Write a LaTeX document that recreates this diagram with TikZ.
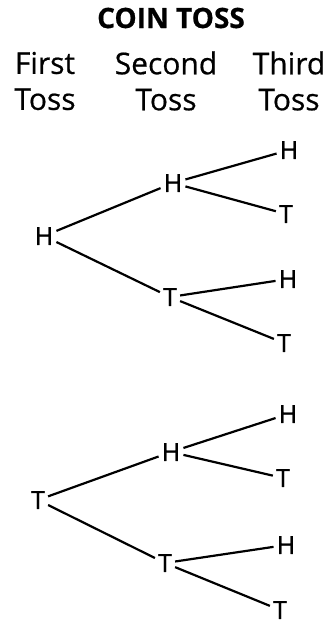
\documentclass[tikz,border=0pt]{standalone}
\usepackage{fontspec}
\setmainfont{Open Sans}[FakeBold=0.6]
\usetikzlibrary{positioning}

\begin{document}
\begin{tikzpicture}[x=1pt, y=-1pt,
		toss/.style={inner sep=3pt, font=\fontsize{25}{30}\selectfont},
		head/.style={align=center, font=\fontsize{30}{36}\selectfont}]
		\useasboundingbox (0,0) rectangle (333,625);
		\node[font=\bfseries\fontsize{28}{32}\selectfont] (title) at (171,18) {COIN TOSS};
		\node[head] (first) at (45,81) {First\\Toss};
		\node[head] (second) at (166,81) {Second\\Toss};
		\node[head] (third) at (289,81) {Third\\Toss};
		% heads first
		\node[toss] (h) at (44,236) {H};
		\node[toss] (hh) at (173,183) {H};
		\node[toss] (ht) at (170,297) {T};
		\node[toss] (hhh) at (289,150) {H};
		\node[toss] (hht) at (286,214) {T};
		\node[toss] (hth) at (288,279) {H};
		\node[toss] (htt) at (284,343) {T};
		% tails first
		\node[toss] (t) at (38,500) {T};
		\node[toss] (th) at (171,452) {H};
		\node[toss] (tt) at (165,563) {T};
		\node[toss] (thh) at (288,414) {H};
		\node[toss] (tht) at (283,478) {T};
		\node[toss] (tth) at (286,545) {H};
		\node[toss] (ttt) at (280,610) {T};
		\foreach \a/\b in {h/hh, h/ht, hh/hhh, hh/hht, ht/hth, ht/htt,
		                   t/th, t/tt, th/thh, th/tht, tt/tth, tt/ttt}
		  \draw[line width=2.2pt] (\a) -- (\b);
	\end{tikzpicture}
\end{document}
